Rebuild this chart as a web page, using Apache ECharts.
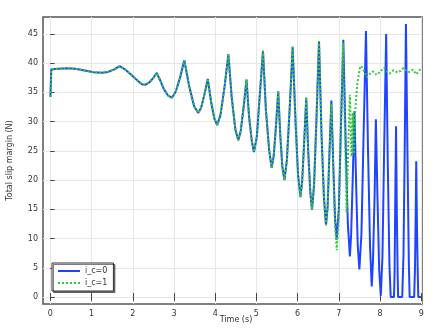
<!DOCTYPE html>
<html>
<head>
<meta charset="utf-8">
<script src="https://cdn.jsdelivr.net/npm/echarts@6/dist/echarts.min.js"></script>
<style>
  html, body { margin: 0; padding: 0; background: #ffffff; }
  #chart { width: 436px; height: 328px; }
</style>
</head>
<body>
<div id="chart"></div>
<script>
// Tick positions on the two axes
const xTicks = [0, 1, 2, 3, 4, 5, 6, 7, 8, 9];
const yTicks = [0, 5, 10, 15, 20, 25, 30, 35, 40, 45];
const seriesNames = ['i_c=0', 'i_c=1'];

// Total slip margin [time (s), value (N)] — identical for both runs up to ~6.7 s
const commonPath = [
  [0.00, 34.2], [0.02, 38.9], [0.10, 39.0], [0.40, 39.15], [0.60, 39.05], [0.80, 38.8],
  [1.05, 38.45], [1.25, 38.35], [1.40, 38.5], [1.55, 38.95], [1.68, 39.5], [1.80, 39.0],
  [1.95, 38.1], [2.10, 37.1], [2.22, 36.4], [2.30, 36.3], [2.40, 36.7], [2.50, 37.5],
  [2.58, 38.35], [2.65, 37.3], [2.75, 35.6], [2.85, 34.5], [2.95, 34.1],
  [3.04, 35.1], [3.15, 37.6], [3.25, 40.5],
  [3.37, 36.0], [3.49, 32.6], [3.59, 31.5],
  [3.66, 32.4], [3.74, 34.7], [3.82, 37.3],
  [3.90, 33.4], [3.98, 30.5], [4.05, 29.4],
  [4.13, 31.2], [4.23, 36.1], [4.32, 41.5],
  [4.40, 34.2], [4.49, 28.6], [4.56, 26.8],
  [4.62, 28.4], [4.69, 32.5], [4.76, 37.2],
  [4.82, 31.0], [4.89, 26.6], [4.94, 24.8],
  [5.01, 27.4], [5.08, 34.3], [5.16, 42.1],
  [5.23, 32.1], [5.31, 25.1], [5.37, 22.1],
  [5.42, 24.1], [5.47, 28.7], [5.53, 35.2],
  [5.58, 27.6], [5.63, 22.3], [5.68, 20.0],
  [5.74, 23.4], [5.81, 32.5], [5.88, 42.8],
  [5.95, 30.0], [6.01, 21.0], [6.07, 17.1],
  [6.11, 19.7], [6.16, 26.5], [6.21, 34.1],
  [6.26, 24.5], [6.31, 17.8], [6.35, 14.9],
  [6.40, 19.2], [6.46, 30.8], [6.52, 43.8],
  [6.58, 28.0], [6.64, 17.0], [6.69, 12.3],
  [6.73, 15.5]
];

// Run without control: oscillation keeps growing until the margin hits zero
const tailIc0 = [
  [6.77, 24.0], [6.82, 33.6],
  [6.87, 21.7], [6.91, 13.4], [6.95, 9.8],
  [7.00, 14.9], [7.05, 28.6], [7.11, 44.0],
  [7.17, 25.5], [7.22, 12.5], [7.27, 6.95],
  [7.30, 10.7], [7.34, 20.6], [7.38, 31.8],
  [7.42, 19.6], [7.46, 8.8], [7.50, 4.7],
  [7.55, 10.8], [7.60, 27.1], [7.66, 45.5],
  [7.71, 25.0], [7.76, 8.4], [7.80, 1.8],
  [7.83, 6.1], [7.87, 17.5], [7.90, 30.4],
  [7.94, 16.8], [7.98, 4.7], [8.02, 0.2],
  [8.06, 6.9], [8.10, 24.8], [8.15, 45.0],
  [8.19, 22.5], [8.23, 5.4], [8.26, 0.0],
  [8.34, 0.0], [8.355, 4.4], [8.37, 16.0], [8.39, 29.2],
  [8.41, 14.0], [8.43, 3.5], [8.44, 0.0],
  [8.54, 0.0], [8.57, 7.0], [8.60, 25.0], [8.63, 46.7],
  [8.67, 23.0], [8.70, 6.0], [8.72, 0.0],
  [8.83, 0.0], [8.85, 5.0], [8.865, 13.0], [8.88, 23.2],
  [8.90, 11.0], [8.92, 3.0], [8.93, 0.0], [9.00, 0.0]
];

// Run with control switched on: margin recovers and settles near 39 N
const tailIc1 = [
  [6.77, 23.5], [6.82, 33.0],
  [6.87, 21.0], [6.91, 12.0], [6.95, 8.0],
  [7.00, 13.5], [7.05, 28.0], [7.10, 43.5],
  [7.15, 28.0], [7.19, 14.4], [7.23, 26.0], [7.27, 34.6],
  [7.31, 24.0], [7.34, 31.5], [7.37, 24.5], [7.40, 32.0],
  [7.45, 36.5], [7.52, 39.5], [7.57, 39.3], [7.62, 38.5], [7.68, 37.6],
  [7.76, 38.2], [7.84, 38.6], [7.92, 38.0], [8.00, 38.5], [8.10, 39.2],
  [8.17, 38.6], [8.23, 38.2], [8.33, 38.8], [8.43, 38.4], [8.50, 38.7],
  [8.57, 39.2], [8.65, 38.6], [8.72, 38.5], [8.80, 38.9], [8.88, 38.1],
  [8.96, 38.8], [9.00, 39.2]
];

const FONT = 'DejaVu Sans';
const TEXT = '#333333';
const FRAME = '#555555';
const BLUE = '#1f44ff';
const GREEN = '#33cc33';

const chart = echarts.init(document.getElementById('chart'), null, { renderer: 'canvas' });

const xBase = {
  type: 'value', min: -0.18, max: 9.02,
  axisLine: { show: false },
  splitLine: { show: false }
};
const yBase = {
  type: 'value', min: -1.2, max: 47.9,
  axisLine: { show: false },
  splitLine: { show: false }
};

chart.setOption({
  animation: false,
  backgroundColor: '#ffffff',
  grid: {
    left: 43, top: 17, width: 379, height: 287,
    outerBoundsMode: 'none', containLabel: false,
    show: true, borderColor: FRAME, borderWidth: 1.5, backgroundColor: '#ffffff'
  },
  legend: {
    orient: 'vertical', left: 52, top: 263,
    padding: [4, 6, 4, 5], itemGap: 4, itemWidth: 22, itemHeight: 10,
    backgroundColor: '#ffffff', borderColor: '#333333', borderWidth: 1,
    shadowColor: 'rgba(0,0,0,0.5)', shadowOffsetX: 1.5, shadowOffsetY: 1.5, shadowBlur: 0,
    itemStyle: { opacity: 0 },
    textStyle: { fontFamily: FONT, fontSize: 8, color: TEXT },
    data: seriesNames
  },
  xAxis: [
    Object.assign({}, xBase, {
      position: 'bottom',
      axisTick: { show: true, inside: true, length: 4, customValues: xTicks, lineStyle: { color: '#444', width: 1 } },
      axisLabel: { customValues: xTicks, fontFamily: FONT, fontSize: 8, color: TEXT, margin: 6 },
      splitLine: { show: true, lineStyle: { color: '#e6e6e6', width: 1 } },
      name: 'Time (s)', nameLocation: 'middle', nameGap: 12, nameMoveOverlap: false,
      nameTextStyle: { fontFamily: FONT, fontSize: 8, color: TEXT, padding: [0, 0, 0, 7] }
    }),
    Object.assign({}, xBase, {
      position: 'top',
      axisTick: { show: true, inside: true, length: 4, customValues: xTicks, lineStyle: { color: '#444', width: 1 } },
      axisLabel: { show: false }
    })
  ],
  yAxis: [
    Object.assign({}, yBase, {
      position: 'left',
      axisTick: { show: true, inside: true, length: 4, customValues: yTicks, lineStyle: { color: '#444', width: 1 } },
      axisLabel: { customValues: yTicks, fontFamily: FONT, fontSize: 8, color: TEXT, margin: 5 },
      splitLine: { show: true, lineStyle: { color: '#e6e6e6', width: 1 } },
      name: 'Total slip margin (N)', nameLocation: 'middle', nameGap: 29, nameRotate: 90, nameMoveOverlap: false,
      nameTextStyle: { fontFamily: FONT, fontSize: 8, color: TEXT }
    }),
    Object.assign({}, yBase, {
      position: 'right',
      axisTick: { show: true, inside: false, length: 4, customValues: yTicks, lineStyle: { color: '#444', width: 1 } },
      axisLabel: { show: false }
    })
  ],
  series: [
    {
      name: seriesNames[0], type: 'line', xAxisIndex: 0, yAxisIndex: 0,
      data: commonPath.concat(tailIc0),
      symbol: 'none', showSymbol: false,
      lineStyle: { color: BLUE, width: 2 },
      itemStyle: { color: BLUE },
      z: 2
    },
    {
      name: seriesNames[1], type: 'line', xAxisIndex: 0, yAxisIndex: 0,
      data: commonPath.concat(tailIc1),
      symbol: 'none', showSymbol: false,
      lineStyle: { color: GREEN, width: 2, type: [2, 2] },
      itemStyle: { color: GREEN },
      z: 3
    }
  ]
});
</script>
</body>
</html>
